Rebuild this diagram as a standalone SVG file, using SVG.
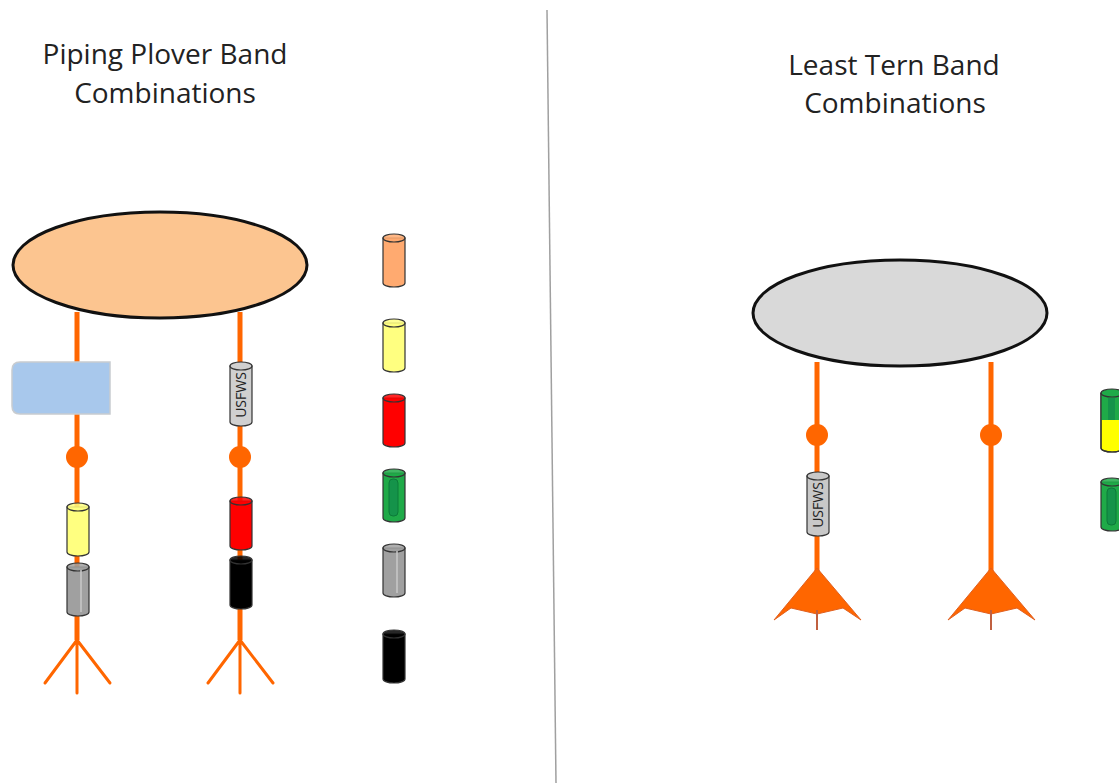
<svg xmlns="http://www.w3.org/2000/svg" xmlns:xlink="http://www.w3.org/1999/xlink" width="1119" height="783" viewBox="0 0 1119 783">
  <style>
    .title { font-family: "Open Sans", "Noto Sans", "Liberation Sans", sans-serif; font-size: 28px; fill: #222; text-anchor: middle; }
    .leg { stroke: #ff6600; stroke-width: 5; fill: none; }
    .toe { stroke: #ff6600; stroke-width: 3; fill: none; stroke-linecap: round; }
    .joint { fill: #ff6600; }
    .web { fill: #ff6600; stroke: #e06020; stroke-width: 1; }
    .body { stroke: #333; stroke-width: 1.2; }
    .tag { font-family: "Open Sans", "Liberation Sans", Arial, sans-serif; font-size: 14px; fill: #222; }
  </style>
  <defs>
    <!-- generic colour band: 22 wide, 53 tall, fill comes from the <use> -->
    <symbol id="band" viewBox="0 0 24 55" width="24" height="55" overflow="visible">
      <path class="body" d="M1,5 V50 A11,4 0 0 0 23,50 V5 Z"/>
      <ellipse class="body" cx="12" cy="5" rx="11" ry="4" fill-opacity="0.85"/>
    </symbol>
    <symbol id="bandTall" viewBox="0 0 24 66" width="24" height="66" overflow="visible">
      <path class="body" d="M1,5 V61 A11,4 0 0 0 23,61 V5 Z"/>
      <ellipse class="body" cx="12" cy="5" rx="11" ry="4"/>
    </symbol>
  </defs>

  <rect width="1119" height="783" fill="#ffffff"/>

  <!-- divider -->
  <line x1="547" y1="10" x2="556" y2="783" stroke="#a0a0a0" stroke-width="1.5"/>

  <!-- titles -->
  <g id="title-plover">
    <text class="title" x="165" y="64">Piping Plover Band</text>
    <text class="title" x="165" y="103">Combinations</text>
  </g>
  <g id="title-tern">
    <text class="title" x="894" y="75">Least Tern Band</text>
    <text class="title" x="895" y="113">Combinations</text>
  </g>

  <!-- legs -->
  <g id="connectors">
    <line class="leg" x1="77" y1="312" x2="77" y2="640"/>
    <line class="leg" x1="240" y1="312" x2="240" y2="640"/>
    <line class="leg" x1="817" y1="362" x2="817" y2="575"/>
    <line class="leg" x1="991" y1="362" x2="991" y2="575"/>
  </g>

  <!-- plover feet -->
  <g id="foot-plover-1">
    <path class="toe" d="M77,640 L45,683 M77,640 L77,693 M77,640 L110,683"/>
  </g>
  <g id="foot-plover-2">
    <path class="toe" d="M240,640 L208,683 M240,640 L240,693 M240,640 L273,683"/>
  </g>

  <!-- tern webbed feet -->
  <g id="foot-tern-1">
    <path class="web" d="M817,568 L774,620 L791,608 L817,614 L843,608 L861,620 Z"/>
    <line x1="817" y1="610" x2="817" y2="630" stroke="#c06040" stroke-width="2"/>
  </g>
  <g id="foot-tern-2">
    <path class="web" d="M991,568 L948,620 L965,608 L991,614 L1017,608 L1035,620 Z"/>
    <line x1="991" y1="610" x2="991" y2="630" stroke="#c06040" stroke-width="2"/>
  </g>

  <!-- bodies -->
  <g id="body-plover">
    <ellipse cx="160" cy="265" rx="147" ry="53" fill="#fcc590" stroke="#111" stroke-width="3"/>
  </g>
  <g id="body-tern">
    <ellipse cx="900" cy="313" rx="147" ry="53" fill="#d9d9d9" stroke="#111" stroke-width="3"/>
  </g>

  <!-- joints -->
  <g id="joints">
    <circle class="joint" cx="77" cy="457" r="11"/>
    <circle class="joint" cx="240" cy="457" r="11"/>
    <circle class="joint" cx="817" cy="435" r="11"/>
    <circle class="joint" cx="991" cy="435" r="11"/>
  </g>

  <!-- plover leg 1: flag and bands -->
  <g id="flag-blue">
    <path d="M20,362 H110 V414 H20 Q12,414 12,406 V370 Q12,362 20,362 Z" fill="#a8c8ec" stroke="#c8ccd0" stroke-width="1.5"/>
  </g>
  <g id="plover1-yellow">
    <use xlink:href="#band" x="66" y="502" fill="#ffff80"/>
  </g>
  <g id="plover1-gray">
    <use xlink:href="#band" x="66" y="562" fill="#a0a0a0"/>
    <line x1="81" y1="570" x2="81" y2="612" stroke="#c8c8c8" stroke-width="1.5"/>
  </g>

  <!-- plover leg 2 -->
  <g id="plover2-usfws">
    <use xlink:href="#bandTall" x="229" y="361" fill="#d0d0d0"/>
    <text class="tag" transform="translate(246,395) rotate(-90)" text-anchor="middle">USFWS</text>
  </g>
  <g id="plover2-red">
    <use xlink:href="#band" x="229" y="496" fill="#ff0000"/>
  </g>
  <g id="plover2-black">
    <use xlink:href="#band" x="229" y="555" fill="#000000"/>
  </g>

  <!-- plover colour key -->
  <g id="key-orange"><use xlink:href="#band" x="382" y="233" fill="#ffaa70"/></g>
  <g id="key-yellow"><use xlink:href="#band" x="382" y="318" fill="#ffff80"/></g>
  <g id="key-red"><use xlink:href="#band" x="382" y="393" fill="#ff0000"/></g>
  <g id="key-green">
    <use xlink:href="#band" x="382" y="468" fill="#1faa48"/>
    <rect x="389" y="479" width="9" height="37" rx="4" fill="#15934a" stroke="#0c7a38" stroke-width="1"/>
  </g>
  <g id="key-gray">
    <use xlink:href="#band" x="382" y="543" fill="#a0a0a0"/>
    <line x1="397" y1="551" x2="397" y2="593" stroke="#c8c8c8" stroke-width="1.5"/>
  </g>
  <g id="key-black"><use xlink:href="#band" x="382" y="629" fill="#000000"/></g>

  <!-- tern leg 1 -->
  <g id="tern1-usfws">
    <use xlink:href="#bandTall" x="806" y="471" fill="#c8c8c8"/>
    <text class="tag" transform="translate(823,505) rotate(-90)" text-anchor="middle">USFWS</text>
  </g>

  <!-- tern colour key (partly off the edge) -->
  <g id="key-green-yellow">
    <path class="body" d="M1101,393 V448 A11,4 0 0 0 1123,448 V393 Z" fill="#ffff00"/>
    <path d="M1101,393 V420 H1123 V393 Z" fill="#1faa48"/>
    <ellipse class="body" cx="1112" cy="393" rx="11" ry="4" fill="#1faa48"/>
    <path d="M1101,393 V448 A11,4 0 0 0 1123,448 V393" fill="none" stroke="#333" stroke-width="1.2"/>
    <rect x="1108" y="398" width="7" height="22" fill="#15934a"/>
  </g>
  <g id="key-green-right">
    <use xlink:href="#band" x="1100" y="477" fill="#1faa48"/>
    <rect x="1107" y="488" width="9" height="37" rx="4" fill="#15934a" stroke="#0c7a38" stroke-width="1"/>
  </g>
</svg>
